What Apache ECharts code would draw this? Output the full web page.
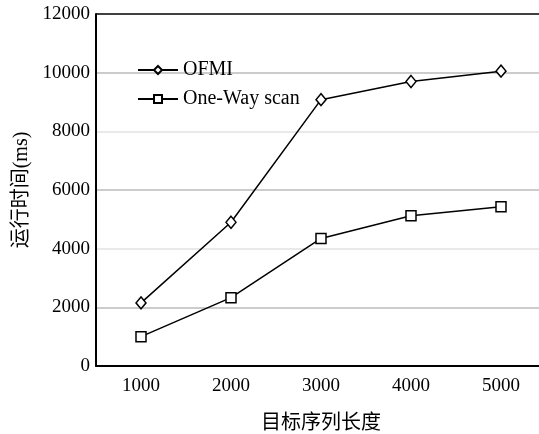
<!DOCTYPE html>
<html><head><meta charset="utf-8">
<script src="https://cdn.jsdelivr.net/npm/echarts@6/dist/echarts.min.js"></script>
<style>html,body{margin:0;padding:0;background:#fff}#c{width:539px;height:434px}</style>
</head><body><div id="c"></div>
<script>
const categories = ['1000','2000','3000','4000','5000'];
const ofmi = [2150, 4900, 9080, 9700, 10050];
const oneWay = [1000, 2330, 4350, 5120, 5430];
const seriesNames = ['OFMI','One-Way scan'];
const serif = '"Liberation Serif","Times New Roman",serif';
const cjk = '"Liberation Serif","Noto Sans CJK SC",serif';
const chart = echarts.init(document.getElementById('c'));
chart.setOption({
  animation:false,
  backgroundColor:'#fff',
  grid:{left:96, top:14, width:450, height:352, containLabel:false, outerBoundsMode:'none'},
  legend:{
    left:137, top:60, padding:0, orient:'vertical', itemGap:9, itemWidth:40, itemHeight:10,
    textStyle:{fontFamily:serif, fontSize:20, color:'#000'},
    data:seriesNames
  },
  xAxis:{
    type:'category', data:categories, boundaryGap:true,
    name:'目标序列长度', nameLocation:'middle', nameGap:48,
    nameTextStyle:{fontFamily:cjk, fontSize:20, color:'#000'},
    axisLine:{lineStyle:{color:'#000', width:2}},
    axisTick:{inside:true, length:6, lineStyle:{color:'#000', width:1.5}},
    axisLabel:{fontFamily:serif, fontSize:19, color:'#000', margin:11}
  },
  yAxis:{
    type:'value', min:0, max:12000, interval:2000,
    name:'运行时间(ms)', nameLocation:'middle', nameGap:64,
    nameTextStyle:{fontFamily:cjk, fontSize:20, color:'#000'},
    axisLine:{show:true, lineStyle:{color:'#000', width:2}},
    axisTick:{show:false},
    axisLabel:{fontFamily:serif, fontSize:19, color:'#000', margin:6, formatter:v=>String(v)},
    splitLine:{show:true, lineStyle:{color:['#000','#bbb','#e2e2e2','#bbb','#e2e2e2','#bbb','#000'], width:1.5}}
  },
  series:[
    {name:seriesNames[0], type:'line', data:ofmi, symbol:'diamond', symbolSize:[10,12],
     lineStyle:{color:'#000', width:1.5}, itemStyle:{color:'#fff', borderColor:'#000', borderWidth:1.5}},
    {name:seriesNames[1], type:'line', data:oneWay, symbol:'rect', symbolSize:10,
     lineStyle:{color:'#000', width:1.5}, itemStyle:{color:'#fff', borderColor:'#000', borderWidth:1.5}}
  ]
});
</script></body></html>
